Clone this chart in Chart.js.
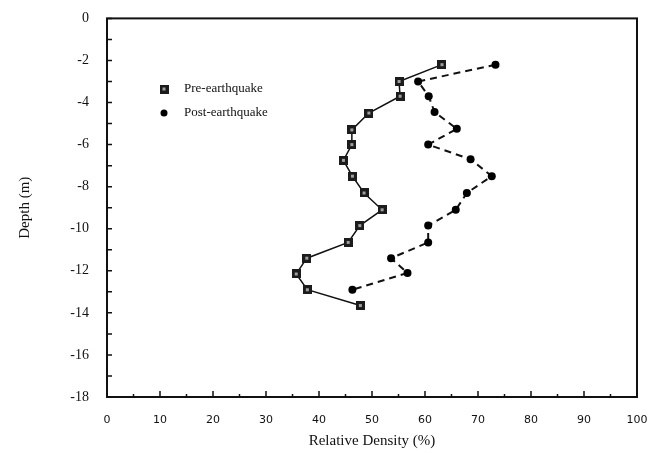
<!DOCTYPE html>
<html>
<head>
<meta charset="utf-8">
<script src="https://cdn.jsdelivr.net/npm/chart.js@4.4.0/dist/chart.umd.min.js"></script>
<style>
html, body { margin: 0; background: #fff; }
#wrap { width: 662px; height: 453px; }
</style>
</head>
<body>
<div id="wrap"><canvas id="myChart"></canvas></div>
<script>
// values
const preDensity = [63.2, 55.1, 55.3, 49.4, 46.2, 46.2, 44.6, 46.3, 48.5, 51.9, 47.7, 45.5, 37.7, 35.7, 37.8, 47.8];
const preDepth = [-2.2, -3.0, -3.7, -4.5, -5.3, -6.0, -6.75, -7.5, -8.3, -9.1, -9.85, -10.65, -11.4, -12.15, -12.9, -13.65];
const postDensity = [73.3, 58.7, 60.7, 61.8, 66.0, 60.6, 68.6, 72.6, 67.9, 65.8, 60.6, 60.6, 53.6, 56.7, 46.3];
const postDepth = [-2.2, -3.0, -3.7, -4.45, -5.25, -6.0, -6.7, -7.5, -8.3, -9.1, -9.85, -10.65, -11.4, -12.1, -12.9];

const xTicks = [0, 10, 20, 30, 40, 50, 60, 70, 80, 90, 100];
const xMinor = [5, 15, 25, 35, 45, 55, 65, 75, 85, 95];
const yTicks = [0, -2, -4, -6, -8, -10, -12, -14, -16, -18];
const yMinor = [-1, -3, -5, -7, -9, -11, -13, -15, -17];

const ctx = document.getElementById('myChart');

// boxed square marker like the scan
function squareMark() {
	const c = document.createElement('canvas');
	c.width = 9; c.height = 9;
	const g = c.getContext('2d');
	g.fillStyle = '#1c1c1c';
	g.fillRect(0, 0, 9, 9);
	g.fillStyle = '#a0a0a0';
	g.fillRect(3, 3, 3, 3);
	return c;
}
const sq = squareMark();

// frame, inward ticks and the in-plot legend
const frame = {
	id: 'frame',
	afterDraw(chart) {
		const { ctx: g, chartArea: a } = chart;
		const xs = chart.scales.x, ys = chart.scales.y;
		g.save();
		g.strokeStyle = '#111';
		g.lineWidth = 2;
		g.strokeRect(a.left, a.top, a.right - a.left, a.bottom - a.top);
		g.lineWidth = 1.5;
		g.beginPath();
		yTicks.concat(yMinor).forEach(v => {
			const p = ys.getPixelForValue(v);
			g.moveTo(a.left, p); g.lineTo(a.left + 5, p);
		});
		xTicks.forEach(v => {
			const p = xs.getPixelForValue(v);
			g.moveTo(p, a.bottom); g.lineTo(p, a.bottom - 6);
		});
		xMinor.forEach(v => {
			const p = xs.getPixelForValue(v);
			g.moveTo(p, a.bottom); g.lineTo(p, a.bottom - 3);
		});
		g.stroke();

		// legend
		const lx = 164, ly = [89, 113];
		g.drawImage(sq, lx - 4.5, ly[0] - 4.5);
		g.fillStyle = '#000';
		g.beginPath();
		g.arc(lx, ly[1], 3.5, 0, Math.PI * 2);
		g.fill();
		g.font = '13px "Liberation Serif"';
		g.textBaseline = 'middle';
		g.fillStyle = '#111';
		g.fillText(chart.data.datasets[0].label, 184, ly[0]);
		g.fillText(chart.data.datasets[1].label, 184, ly[1]);
		g.restore();
	}
};

new Chart(ctx, {
	type: 'scatter',
	data: {
		datasets: [
			{
				label: 'Pre-earthquake',
				data: preDensity.map((x, i) => ({ x: x, y: preDepth[i] })),
				showLine: true,
				borderColor: '#111',
				borderWidth: 1.5,
				pointStyle: sq,
				pointRadius: 4.5,
			},
			{
				label: 'Post-earthquake',
				data: postDensity.map((x, i) => ({ x: x, y: postDepth[i] })),
				showLine: true,
				borderColor: '#111',
				borderWidth: 2,
				borderDash: [7, 5],
				pointStyle: 'circle',
				pointRadius: 4,
				pointBackgroundColor: '#000',
				pointBorderColor: '#000',
				pointBorderWidth: 0,
			},
		]
	},
	options: {
		responsive: true,
		maintainAspectRatio: false,
		animation: false,
		layout: { padding: { top: 13, right: 25, left: 0, bottom: 0 } },
		plugins: {
			legend: { display: false },
			tooltip: { enabled: false }
		},
		scales: {
			x: {
				type: 'linear',
				min: 0,
				max: 100,
				afterBuildTicks: s => { s.ticks = xTicks.map(v => ({ value: v })); },
				afterFit: s => { s.height = 56; },
				grid: { display: false },
				border: { display: false },
				ticks: {
					padding: 9,
					color: '#111',
					font: { family: '"DejaVu Sans"', size: 11 },
					maxRotation: 0
				},
				title: {
					display: true,
					text: 'Relative Density (%)',
					color: '#111',
					font: { family: '"Liberation Serif"', size: 15 },
					padding: { top: 0, bottom: 3 }
				}
			},
			y: {
				type: 'linear',
				min: -18,
				max: 0,
				afterBuildTicks: s => { s.ticks = yTicks.map(v => ({ value: v })); },
				afterFit: s => { s.width = 107; },
				grid: { display: false },
				border: { display: false },
				ticks: {
					padding: 10,
					color: '#111',
					font: { family: '"Liberation Serif"', size: 14 }
				},
				title: {
					display: true,
					text: 'Depth (m)',
					color: '#111',
					font: { family: '"Liberation Serif"', size: 15 },
					padding: { top: 16, bottom: 0 }
				}
			}
		}
	},
	plugins: [frame]
});
</script>
</body>
</html>
